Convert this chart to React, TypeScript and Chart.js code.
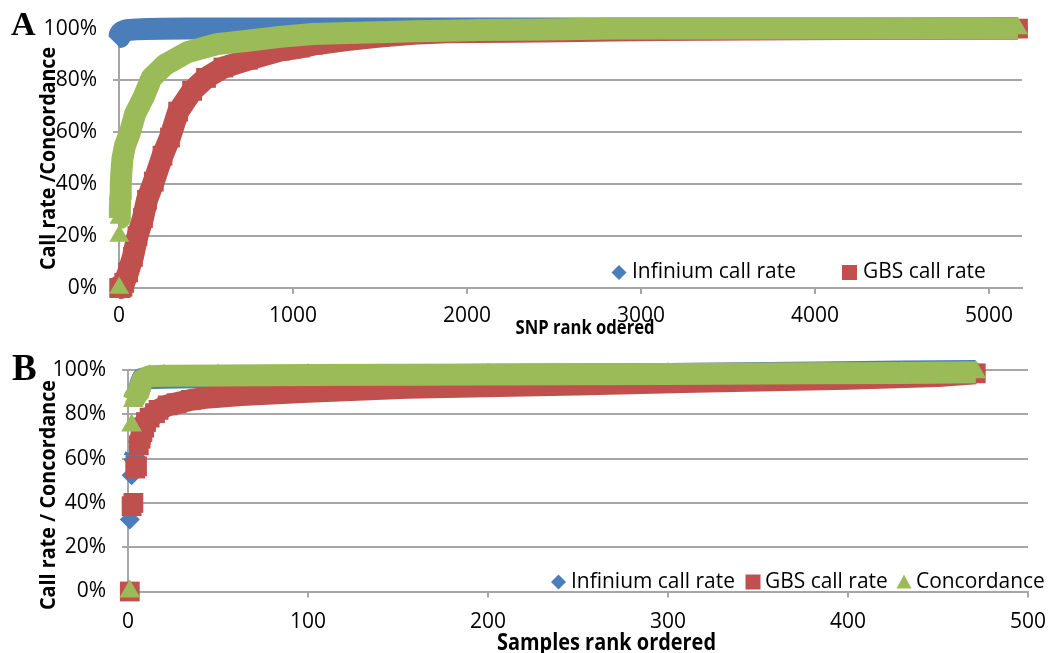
import React, { useEffect, useRef } from "react";
import { Chart, registerables } from "chart.js";

Chart.register(...registerables);

const COLOR_INFINIUM = "#4a7ebb";
const COLOR_GBS = "#c0504d";
const COLOR_CONC = "#9bbb59";
const GRID = "#a6a6a6";
const FONT = "'Open Sans', 'DejaVu Sans', sans-serif";
const SERIF = "'Liberation Serif', 'Times New Roman', serif";

// ---------- Panel A : SNPs, rank ordered ----------
const snpInfiniumRank = [1, 4, 10, 20, 35, 60, 100, 160, 250, 400, 700, 1200, 2000, 3000, 4000, 5000, 5167];
const snpInfiniumRate = [96.8, 97.5, 98.2, 98.8, 99.2, 99.5, 99.7, 99.8, 99.9, 100, 100, 100, 100, 100, 100, 100, 100];

const snpGbsRank = [1, 10, 20, 30, 52, 80, 106, 138, 161, 200, 250, 293, 340, 420, 500, 600, 741, 925, 1040, 1115, 1310, 1500, 1690, 1885, 2264, 2550, 2840, 3110, 3600, 4200, 4700, 5167];
const snpGbsRate = [0, 0, 0.5, 2, 6, 12, 20, 27, 34, 41, 51, 58, 68, 76, 81, 85, 88, 91.5, 92.7, 93.8, 95.6, 96.9, 98.0, 98.6, 98.8, 99.0, 99.3, 99.5, 99.7, 99.8, 99.9, 100];

const snpConcRank = [1, 2, 3, 5, 7, 10, 14, 20, 35, 63, 92, 144, 187, 264, 390, 563, 753, 925, 1115, 1310, 1500, 1690, 1885, 2075, 2460, 2840, 3500, 4300, 5167];
const snpConcRate = [0, 20, 27, 31, 35, 40, 45, 50, 55, 60, 67, 74, 81, 86, 90.8, 94, 95.4, 96.8, 97.9, 98.3, 98.6, 99, 99.2, 99.5, 99.7, 100, 100, 100, 100];

// ---------- Panel B : samples, rank ordered ----------
const sampleInfiniumRank = [1, 2, 3, 4, 5, 6, 7, 8, 10, 20, 45, 100, 200, 300, 383, 430, 471];
const sampleInfiniumRate = [32.5, 52.5, 59.5, 61, 75, 90, 94, 96, 96.3, 96.5, 96.8, 97.2, 97.8, 98.2, 98.9, 99.3, 99.6];

const sampleGbsRank = [1, 2, 3, 4, 5, 6, 7, 8, 9, 10, 12, 15, 17, 22, 27, 35, 45, 63, 100, 155, 250, 315, 400, 450, 471];
const sampleGbsRate = [0, 38.5, 40, 55.5, 56.5, 66, 69, 72, 74, 76.5, 78.5, 80.5, 82, 84, 85, 86.5, 87.6, 88.7, 90.2, 92, 93.5, 94.7, 96, 97.3, 98.5];

const sampleConcRank = [1, 2, 3, 4, 5, 6, 7, 8, 10, 12, 20, 50, 100, 200, 300, 380, 430, 471];
const sampleConcRate = [0, 75, 86, 88, 89, 90, 93, 95.5, 96.5, 97.2, 97.4, 97.5, 97.7, 98, 98.2, 98.5, 98.7, 99];

// ---------- ticks & labels ----------
const percentTicks = [0, 20, 40, 60, 80, 100];
const snpTicks = [0, 1000, 2000, 3000, 4000, 5000];
const sampleTicks = [0, 100, 200, 300, 400, 500];
const seriesLabels = ["Infinium call rate", "GBS call rate", "Concordance"];

type Shape = "diamond" | "square" | "triangle";

type Txt = {
  text: string; x: number; y: number; weight?: string; family?: string;
  size: number; fit?: number; rotate?: boolean; align?: CanvasTextAlign;
};
type Leg = { label: string; color: string; shape: Shape; mx: number; tx: number; y: number };

function drawShape(ctx: CanvasRenderingContext2D, shape: Shape, x: number, y: number, color: string) {
  ctx.fillStyle = color;
  ctx.beginPath();
  if (shape === "diamond") {
    const r = 7.5;
    ctx.moveTo(x - r, y); ctx.lineTo(x, y - r); ctx.lineTo(x + r, y); ctx.lineTo(x, y + r);
  } else if (shape === "square") {
    ctx.rect(x - 7.5, y - 7.5, 15, 15);
  } else {
    ctx.moveTo(x, y - 7.5); ctx.lineTo(x + 7.5, y + 6.5); ctx.lineTo(x - 7.5, y + 6.5);
  }
  ctx.closePath();
  ctx.fill();
}

function overlayPlugin(texts: Txt[], legend: Leg[]) {
  return {
    id: "overlay",
    afterDraw(chart: any) {
      const ctx: CanvasRenderingContext2D = chart.ctx;
      ctx.save();
      for (const t of texts) {
        ctx.save();
        ctx.font = `${t.weight ?? "normal"} ${t.size}px ${t.family ?? FONT}`;
        ctx.fillStyle = "#000";
        ctx.textAlign = t.align ?? "center";
        ctx.textBaseline = "alphabetic";
        ctx.translate(t.x, t.y);
        if (t.rotate) ctx.rotate(-Math.PI / 2);
        if (t.fit) {
          const w = ctx.measureText(t.text).width;
          ctx.scale(t.fit / w, 1);
        }
        ctx.fillText(t.text, 0, 0);
        ctx.restore();
      }
      ctx.font = `normal 100px ${FONT}`;
      const legSize = (100 * 164) / ctx.measureText(seriesLabels[0]).width;
      for (const l of legend) {
        drawShape(ctx, l.shape, l.mx, l.y, l.color);
        ctx.font = `normal ${legSize}px ${FONT}`;
        ctx.fillStyle = "#000";
        ctx.textAlign = "left";
        ctx.textBaseline = "middle";
        ctx.fillText(l.label, l.tx, l.y);
      }
      ctx.restore();
    },
  };
}

function points(ranks: number[], rates: number[]) {
  return ranks.map((x, i) => ({ x, y: rates[i] }));
}

function dataset(label: string, ranks: number[], rates: number[], color: string, style: string, radius: number, order: number) {
  return {
    label,
    data: points(ranks, rates),
    showLine: true,
    borderColor: color,
    backgroundColor: color,
    borderWidth: 22,
    borderJoinStyle: "round",
    borderCapStyle: "butt",
    pointStyle: style,
    pointRadius: radius,
    pointHoverRadius: radius,
    pointBorderWidth: 0,
    pointBackgroundColor: color,
    clip: false,
    order,
    segment: {
      // isolated markers: neighbouring ranks with a big jump are not joined
      borderColor: (c: any) =>
        c.p1.parsed.x - c.p0.parsed.x <= 3 && Math.abs(c.p1.parsed.y - c.p0.parsed.y) > 5 ? "rgba(0,0,0,0)" : color,
    },
  };
}

function buildConfig(opts: {
  sets: any[]; xMax: number; xTicks: number[]; yWidth: number; xHeight: number;
  padRight: number; padTop: number; xPad: number; texts: Txt[]; legend: Leg[];
}) {
  const tickFont = { family: FONT, size: 21 };
  return {
    type: "scatter",
    data: { datasets: opts.sets },
    options: {
      animation: false,
      responsive: false,
      devicePixelRatio: 1,
      events: [],
      layout: { padding: { left: 0, right: opts.padRight, top: opts.padTop, bottom: 0 } },
      plugins: { legend: { display: false }, tooltip: { enabled: false } },
      scales: {
        x: {
          type: "linear",
          min: 0,
          max: opts.xMax,
          afterFit: (s: any) => { s.height = opts.xHeight; },
          afterBuildTicks: (s: any) => { s.ticks = opts.xTicks.map((v) => ({ value: v })); },
          ticks: { font: tickFont, color: "#000", padding: opts.xPad, maxRotation: 0, autoSkip: false, callback: (v: any) => String(v) },
          grid: { drawOnChartArea: false, drawTicks: true, tickLength: 6, color: GRID, lineWidth: 2 },
          border: { display: true, color: GRID, width: 2 },
        },
        y: {
          type: "linear",
          min: 0,
          max: 100,
          afterFit: (s: any) => { s.width = opts.yWidth; },
          afterBuildTicks: (s: any) => { s.ticks = percentTicks.map((v) => ({ value: v })); },
          ticks: { font: tickFont, color: "#000", padding: 16, callback: (v: any) => `${v}%` },
          grid: { color: GRID, lineWidth: 2, tickLength: 6, drawTicks: true },
          border: { display: true, color: GRID, width: 2 },
        },
      },
    },
    plugins: [overlayPlugin(opts.texts, opts.legend)],
  };
}

export default function App() {
  const refA = useRef<HTMLCanvasElement | null>(null);
  const refB = useRef<HTMLCanvasElement | null>(null);

  useEffect(() => {
    const chartA = new Chart(refA.current as HTMLCanvasElement, buildConfig({
      sets: [
        dataset(seriesLabels[0], snpInfiniumRank, snpInfiniumRate, COLOR_INFINIUM, "rectRot", 10, 3),
        dataset(seriesLabels[1], snpGbsRank, snpGbsRate, COLOR_GBS, "rect", 14, 2),
        dataset(seriesLabels[2], snpConcRank, snpConcRate, COLOR_CONC, "triangle", 11.5, 1),
      ],
      xMax: 5190,
      xTicks: snpTicks,
      yWidth: 119,
      xHeight: 62,
      padRight: 36,
      padTop: 28,
      xPad: 9,
      texts: [
        { text: "A", x: 11, y: 35, weight: "bold", family: SERIF, size: 34, align: "left" },
        { text: "Call rate /Concordance", x: 55, y: 158.5, weight: "bold", size: 20.5, fit: 223, rotate: true },
        { text: "SNP rank odered", x: 585, y: 334, weight: "bold", size: 20, fit: 139 },
      ],
      legend: [
        { label: seriesLabels[0], color: COLOR_INFINIUM, shape: "diamond", mx: 619, tx: 632, y: 272.5 },
        { label: seriesLabels[1], color: COLOR_GBS, shape: "square", mx: 849.5, tx: 863, y: 272.5 },
      ],
    }) as any);

    const chartB = new Chart(refB.current as HTMLCanvasElement, buildConfig({
      sets: [
        dataset(seriesLabels[0], sampleInfiniumRank, sampleInfiniumRate, COLOR_INFINIUM, "rectRot", 10, 3),
        dataset(seriesLabels[1], sampleGbsRank, sampleGbsRate, COLOR_GBS, "rect", 14, 2),
        dataset(seriesLabels[2], sampleConcRank, sampleConcRate, COLOR_CONC, "triangle", 12, 1),
      ],
      xMax: 500,
      xTicks: sampleTicks,
      yWidth: 128,
      xHeight: 61.5,
      padRight: 22,
      padTop: 30,
      xPad: 12,
      texts: [
        { text: "B", x: 12, y: 40, weight: "bold", family: SERIF, size: 37, align: "left" },
        { text: "Call rate / Concordance", x: 55, y: 155, weight: "bold", size: 20.5, fit: 230, rotate: true },
        { text: "Samples rank ordered", x: 606.5, y: 309.5, weight: "bold", size: 22.5, fit: 219 },
      ],
      legend: [
        { label: seriesLabels[0], color: COLOR_INFINIUM, shape: "diamond", mx: 558.5, tx: 571, y: 242 },
        { label: seriesLabels[1], color: COLOR_GBS, shape: "square", mx: 753, tx: 765, y: 242 },
        { label: seriesLabels[2], color: COLOR_CONC, shape: "triangle", mx: 904, tx: 916, y: 242 },
      ],
    }) as any);

    return () => {
      chartA.destroy();
      chartB.destroy();
    };
  }, []);

  return (
    <div style={{ position: "absolute", left: 0, top: 0, width: 1058, height: 653, background: "#fff", overflow: "hidden" }}>
      <canvas ref={refA} width={1058} height={350} style={{ position: "absolute", left: 0, top: 0, width: 1058, height: 350 }} />
      <canvas ref={refB} width={1058} height={313} style={{ position: "absolute", left: 0, top: 340, width: 1058, height: 313 }} />
    </div>
  );
}
